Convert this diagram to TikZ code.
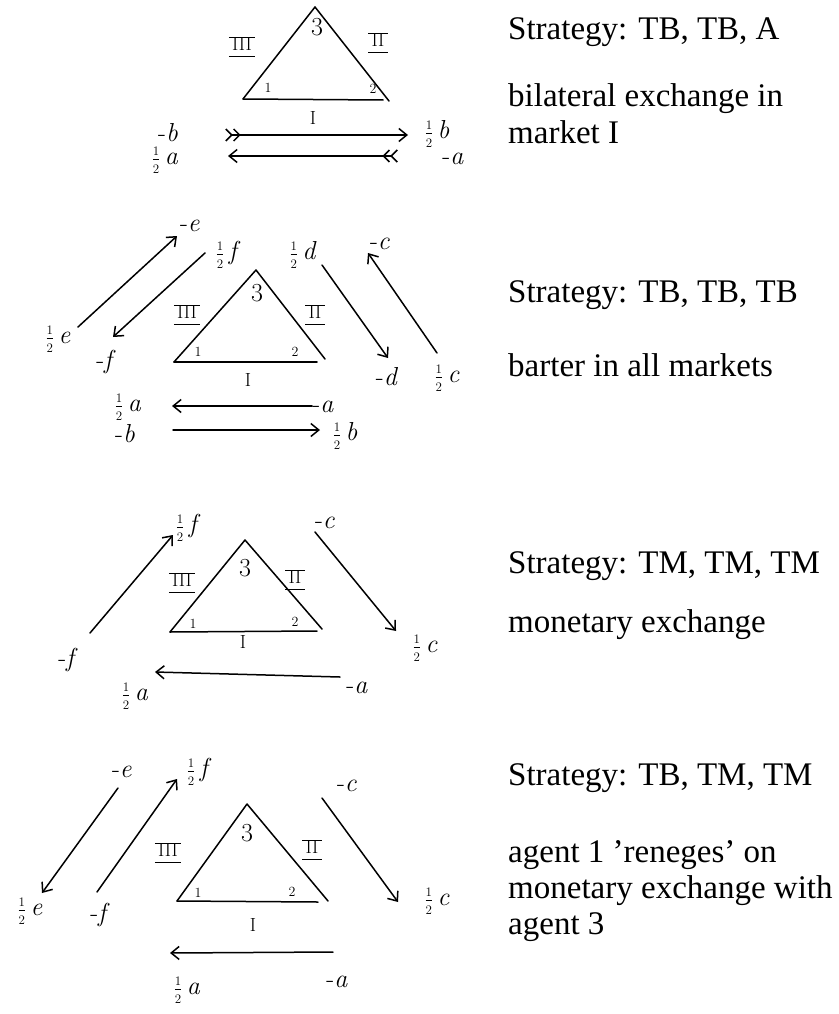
\documentclass[tikz,border=0pt]{standalone}
\usepackage{fontspec}
\newfontfamily\capfont{Liberation Serif}
\usetikzlibrary{arrows.meta}
\newcommand\dg[1]{\mbox{\fontsize{13}{13}\selectfont #1}}
\newcommand\hlf[1]{\(\textstyle\frac{\dg{1}}{\dg{2}}\)\,\textit{#1}}
\newcommand\mns[1]{-\textit{#1}}
\newcommand\rmn[1]{{\setlength\arrayrulewidth{1.1pt}\renewcommand\arraystretch{0.85}\begin{tabular}{@{\,}c@{\,}}\hline #1\\\hline\end{tabular}}}
\tikzset{
  pen/.style={line width=1.5pt, line cap=round, line join=round},
  arr/.style={pen, -{Straight Barb[length=8pt,width=13pt]}},
  fletch/.style={pen, {Straight Barb[reversed,length=6pt,width=12pt]Straight Barb[reversed,length=6pt,width=12pt]}-{Straight Barb[length=8pt,width=13pt]}},
  lbl/.style={inner sep=0pt, font=\fontsize{26}{28}\selectfont},
  vtx/.style={inner sep=0pt, font=\fontsize{14}{16}\selectfont},
  apex/.style={inner sep=0pt, font=\fontsize{26}{28}\selectfont},
  mkt/.style={inner sep=0pt, font=\fontsize{19}{22}\selectfont},
  desc/.style={inner sep=0pt, anchor=base west, font=\capfont\fontsize{33}{36}\selectfont},
}
\begin{document}
\begin{tikzpicture}[x=1pt,y=-1pt]
\useasboundingbox (0,0) rectangle (838,1014);

% ---------- panel 1 ----------
\coordinate (p1L) at (243,99); \coordinate (p1T) at (315,7);
\coordinate (p1R) at (389,101); \coordinate (p1B) at (383,100);
\draw[pen] (p1L) -- (p1T) -- (p1R);
\draw[pen] (p1L) -- (p1B);
\node[apex] (p1v3) at (317,27) {3};
\node[vtx] (p1v1) at (268,88) {1};
\node[vtx] (p1v2) at (373,89) {2};
\node[mkt] (p1m3) at (242,47) {\rmn{III}};
\node[mkt] (p1m2) at (378,43) {\rmn{II}};
\node[mkt] (p1m1) at (313,118) {I};
\node[lbl] (p1mb) at (168,133) {\mns{b}};
\node[lbl] (p1hb) at (437,134) {\hlf{b}};
\node[lbl] (p1ha) at (165,160) {\hlf{a}};
\node[lbl] (p1ma) at (453,159) {\mns{a}};
\draw[fletch] ([shift={(57,2)}]p1mb.center) -- ([shift={(-29,1)}]p1hb.center);
\draw[fletch] ([shift={(-55,-3)}]p1ma.center) -- ([shift={(63,-4)}]p1ha.center);

% ---------- panel 2 ----------
\coordinate (p2L) at (174,362); \coordinate (p2T) at (256,270);
\coordinate (p2R) at (325,359); \coordinate (p2B) at (317,362);
\draw[pen] (p2L) -- (p2T) -- (p2R);
\draw[pen] (p2L) -- (p2B);
\node[apex] (p2v3) at (257,293) {3};
\node[vtx] (p2v1) at (198,352) {1};
\node[vtx] (p2v2) at (295,352) {2};
\node[mkt] (p2m3) at (187,315) {\rmn{III}};
\node[mkt] (p2m2) at (315,315) {\rmn{II}};
\node[mkt] (p2m1) at (248,380) {I};
\node[lbl] (p2me) at (190,226) {\mns{e}};
\node[lbl] (p2he) at (58,339) {\hlf{e}};
\node[lbl] (p2hf) at (228,255) {\hlf{f}};
\node[lbl] (p2mf) at (106,362) {\mns{f}};
\node[lbl] (p2hd) at (303,255) {\hlf{d}};
\node[lbl] (p2md) at (387,377) {\mns{d}};
\node[lbl] (p2mc) at (380,244) {\mns{c}};
\node[lbl] (p2hc) at (447,378) {\hlf{c}};
\node[lbl] (p2ha) at (128,407) {\hlf{a}};
\node[lbl] (p2ma) at (323,407) {\mns{a}};
\node[lbl] (p2mb) at (125,434) {\mns{b}};
\node[lbl] (p2hb) at (345,436) {\hlf{b}};
\draw[arr] ([shift={(20,-12)}]p2he.center) -- ([shift={(-13,10)}]p2me.center);
\draw[arr] ([shift={(-23,-2)}]p2hf.center) -- ([shift={(7,-25)}]p2mf.center);
\draw[arr] ([shift={(19,10)}]p2hd.center) -- ([shift={(1,-19)}]p2md.center);
\draw[arr] ([shift={(-10,-25)}]p2hc.center) -- ([shift={(-12,9)}]p2mc.center);
\draw[arr] ([shift={(-11,-1)}]p2ma.center) -- ([shift={(44,-1)}]p2ha.center);
\draw[arr] ([shift={(48,-4)}]p2mb.center) -- ([shift={(-25,-6)}]p2hb.center);

% ---------- panel 3 ----------
\coordinate (p3L) at (170,632); \coordinate (p3T) at (245,540);
\coordinate (p3R) at (322,629); \coordinate (p3B) at (317,631);
\draw[pen] (p3L) -- (p3T) -- (p3R);
\draw[pen] (p3L) -- (p3B);
\node[apex] (p3v3) at (245,568) {3};
\node[vtx] (p3v1) at (193,624) {1};
\node[vtx] (p3v2) at (295,622) {2};
\node[mkt] (p3m3) at (182,583) {\rmn{III}};
\node[mkt] (p3m2) at (295,580) {\rmn{II}};
\node[mkt] (p3m1) at (243,642) {I};
\node[lbl] (p3hf) at (188,528) {\hlf{f}};
\node[lbl] (p3mf) at (68,660) {\mns{f}};
\node[lbl] (p3mc) at (325,523) {\mns{c}};
\node[lbl] (p3hc) at (425,648) {\hlf{c}};
\node[lbl] (p3ha) at (135,696) {\hlf{a}};
\node[lbl] (p3ma) at (357,688) {\mns{a}};
\draw[arr] ([shift={(22,-27)}]p3mf.center) -- ([shift={(-15,7)}]p3hf.center);
\draw[arr] ([shift={(-10,9)}]p3mc.center) -- ([shift={(-29,-17)}]p3hc.center);
\draw[arr] ([shift={(-17,-11)}]p3ma.center) -- ([shift={(20,-24)}]p3ha.center);

% ---------- panel 4 ----------
\coordinate (p4L) at (177,901); \coordinate (p4T) at (247,804);
\coordinate (p4R) at (328,901); \coordinate (p4B) at (318,902);
\draw[pen] (p4L) -- (p4T) -- (p4R);
\draw[pen] (p4L) -- (p4B);
\node[apex] (p4v3) at (247,833) {3};
\node[vtx] (p4v1) at (198,893) {1};
\node[vtx] (p4v2) at (292,892) {2};
\node[mkt] (p4m3) at (168,853) {\rmn{III}};
\node[mkt] (p4m2) at (312,850) {\rmn{II}};
\node[mkt] (p4m1) at (253,925) {I};
\node[lbl] (p4me) at (122,772) {\mns{e}};
\node[lbl] (p4he) at (30,911) {\hlf{e}};
\node[lbl] (p4hf) at (199,772) {\hlf{f}};
\node[lbl] (p4mf) at (100,915) {\mns{f}};
\node[lbl] (p4mc) at (347,786) {\mns{c}};
\node[lbl] (p4hc) at (437,901) {\hlf{c}};
\node[lbl] (p4ha) at (187,990) {\hlf{a}};
\node[lbl] (p4ma) at (337,982) {\mns{a}};
\draw[arr] ([shift={(-4,16)}]p4me.center) -- ([shift={(12,-18)}]p4he.center);
\draw[arr] ([shift={(-3,-23)}]p4mf.center) -- ([shift={(-22,7)}]p4hf.center);
\draw[arr] ([shift={(-25,12)}]p4mc.center) -- ([shift={(-39,1)}]p4hc.center);
\draw[arr] ([shift={(-4,-30)}]p4ma.center) -- ([shift={(-17,-37)}]p4ha.center);

% ---------- descriptions ----------
\node[desc] (t1) at (508,40) {Strategy: TB, TB, A};
\node[desc] (t2) at (508,107) {bilateral exchange in};
\node[desc] (t3) at (508,143) {market I};
\node[desc] (t4) at (508,302) {Strategy: TB, TB, TB};
\node[desc] (t5) at (508,376) {barter in all markets};
\node[desc] (t6) at (508,573) {Strategy: TM, TM, TM};
\node[desc] (t7) at (508,632) {monetary exchange};
\node[desc] (t8) at (508,785) {Strategy: TB, TM, TM};
\node[desc] (t9) at (508,862) {agent 1 ’reneges’ on};
\node[desc] (t10) at (508,898) {monetary exchange with};
\node[desc] (t11) at (508,934) {agent 3};
\end{tikzpicture}
\end{document}
